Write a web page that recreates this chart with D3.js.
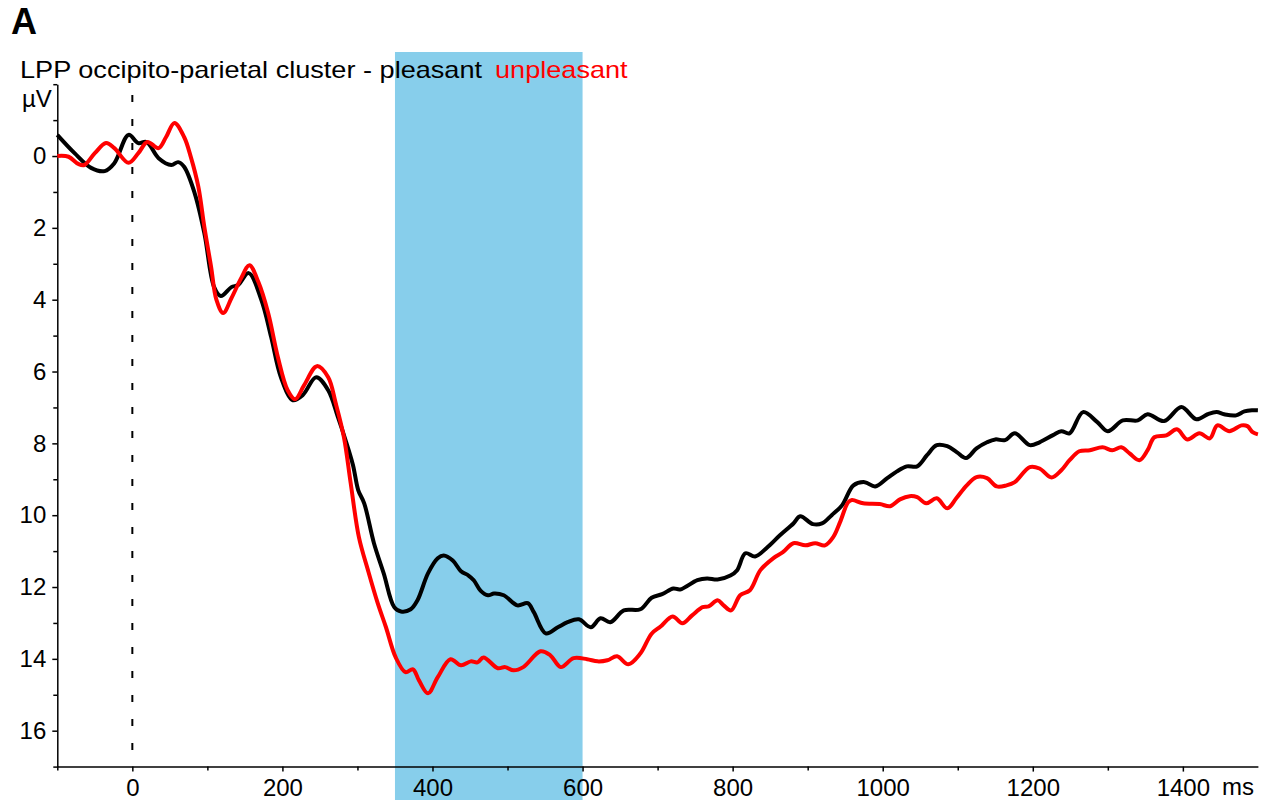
<!DOCTYPE html>
<html>
<head>
<meta charset="utf-8">
<script src="https://cdn.jsdelivr.net/npm/d3@7"></script>
<style>
  body { margin: 0; background: #fff; }
  svg { font-family: "Liberation Sans", Arial, sans-serif; }
  .axis path, .axis line { stroke: #000; stroke-width: 1.5; }
  .axis text { font-size: 24px; fill: #000; }
</style>
</head>
<body>
<svg id="canvas" width="1267" height="803"></svg>
<script>
// ************************************************************************************** //
// Data (ms, µV)

var pleasant_ms = [-100,-77,-55,-37,-24,-5,8,19,35,52,61,69,83,96,109,118,132,141,155,172,185,198,214,227,245,261,274,284,294,301,309,322,335,349,358,371,380,394,407,415,427,438,448,455,464,474,482,495,513,527,535,551,567,580,595,611,624,637,655,677,692,706,721,730,753,766,780,797,806,817,830,846,863,881,890,907,919,932,946,961,976,990,1006,1019,1032,1046,1059,1072,1086,1099,1111,1125,1139,1150,1163,1176,1196,1209,1227,1238,1249,1267,1286,1300,1320,1340,1353,1375,1398,1418,1433,1445,1455,1471,1482,1493,1500];
var pleasant_uv = [-0.59,-0.08,0.33,0.42,0.2,-0.59,-0.36,-0.39,0.06,0.25,0.17,0.3,1.03,2.15,3.65,3.9,3.65,3.59,3.26,4.01,5.04,6.16,6.8,6.66,6.16,6.52,7.27,7.9,8.6,9.3,9.67,10.78,11.62,12.56,12.68,12.62,12.37,11.62,11.2,11.12,11.26,11.56,11.68,11.81,12.1,12.23,12.18,12.23,12.51,12.45,12.7,13.29,13.12,12.98,12.9,13.12,12.87,12.98,12.65,12.62,12.3,12.2,12.04,12.07,11.81,11.76,11.79,11.68,11.53,11.06,11.15,10.9,10.56,10.23,10.03,10.25,10.23,10.0,9.72,9.17,9.08,9.2,8.97,8.78,8.64,8.64,8.33,8.05,8.08,8.25,8.41,8.14,7.97,7.89,7.91,7.72,8.05,7.97,7.77,7.66,7.72,7.13,7.41,7.66,7.36,7.36,7.19,7.38,6.99,7.33,7.19,7.13,7.19,7.22,7.11,7.08,7.08];

var unpleasant_ms = [-100,-85,-72,-64,-50,-35,-24,-5,8,20,35,45,56,69,78,88,96,105,112,121,132,145,156,168,181,194,207,217,229,246,261,271,282,291,302,314,327,338,351,364,374,382,394,407,424,438,451,460,468,487,497,508,521,544,557,571,588,606,620,633,646,661,677,692,704,720,733,746,760,768,780,788,798,810,823,837,854,867,881,897,910,923,934,943,954,959,974,996,1010,1023,1036,1046,1058,1072,1086,1098,1112,1125,1139,1152,1165,1176,1196,1209,1225,1238,1249,1262,1276,1293,1306,1318,1329,1342,1353,1362,1378,1392,1406,1422,1436,1446,1462,1478,1486,1493,1500];
var unpleasant_uv = [0.0,0.02,0.22,0.25,-0.08,-0.36,-0.22,0.19,-0.08,-0.39,-0.22,-0.53,-0.92,-0.53,0.03,0.86,1.98,3.09,4.0,4.37,3.96,3.4,3.04,3.51,4.37,5.6,6.52,6.77,6.38,5.85,6.16,6.88,7.83,9.11,10.62,11.53,12.45,13.12,13.96,14.37,14.29,14.6,14.96,14.51,14.01,14.18,14.07,14.1,13.96,14.26,14.23,14.32,14.23,13.79,13.9,14.23,13.98,14.01,14.07,14.04,13.93,14.15,13.85,13.3,13.1,12.82,13.01,12.79,12.56,12.54,12.37,12.51,12.65,12.23,12.09,11.53,11.2,11.03,10.78,10.84,10.78,10.84,10.61,10.2,9.64,9.58,9.67,9.69,9.75,9.56,9.47,9.5,9.67,9.53,9.81,9.53,9.17,8.94,8.97,9.2,9.17,9.08,8.66,8.7,8.95,8.75,8.47,8.22,8.19,8.11,8.19,8.11,8.28,8.47,8.19,7.83,7.78,7.61,7.89,7.72,7.86,7.5,7.66,7.5,7.52,7.69,7.75];

var window_ms = [350, 600];
var x_major = [0,200,400,600,800,1000,1200,1400];
var x_minor = [-100,100,300,500,700,900,1100,1300];
var y_major = [0,2,4,6,8,10,12,14,16];
var y_minor = [-2,-1,1,3,5,7,9,11,13,15,17];

// ************************************************************************************** //
// Scales

var svg = d3.select('#canvas');
var xScale = d3.scaleLinear().domain([-100, 1500]).range([57.3, 1257.9]);
var yScale = d3.scaleLinear().domain([-2, 17]).range([84.2, 766.6]);

var lineGen = d3.line()
  .x(d => xScale(d[0]))
  .y(d => yScale(d[1]))
  .curve(d3.curveCatmullRom.alpha(0.5));

// highlighted window
svg.append('rect')
  .attr('x', xScale(window_ms[0]))
  .attr('y', 52)
  .attr('width', xScale(window_ms[1]) - xScale(window_ms[0]))
  .attr('height', 748)
  .attr('fill', '#87ceeb');

// stimulus onset
svg.append('line')
  .attr('x1', xScale(0)).attr('x2', xScale(0))
  .attr('y1', 95).attr('y2', yScale(17))
  .attr('stroke', '#000').attr('stroke-width', 2)
  .attr('stroke-dasharray', '7,17');

// ************************************************************************************** //
// Axes

var fmt = d3.format('d');

svg.append('g').attr('class', 'axis').attr('transform', 'translate(' + xScale(-100) + ',0)')
  .call(d3.axisLeft(yScale).tickValues(y_major).tickFormat(fmt).tickSize(5).tickSizeOuter(0).tickPadding(6));
svg.append('g').attr('class', 'axis').attr('transform', 'translate(' + xScale(-100) + ',0)')
  .call(d3.axisLeft(yScale).tickValues(y_minor).tickSize(4).tickSizeOuter(0).tickFormat(''))
  .select('.domain').remove();

svg.append('g').attr('class', 'axis').attr('transform', 'translate(0,' + yScale(17) + ')')
  .call(d3.axisBottom(xScale).tickValues(x_major).tickFormat(fmt).tickSize(5).tickSizeOuter(0).tickPadding(7));
svg.append('g').attr('class', 'axis').attr('transform', 'translate(0,' + yScale(17) + ')')
  .call(d3.axisBottom(xScale).tickValues(x_minor).tickSize(4).tickSizeOuter(0).tickFormat(''))
  .select('.domain').remove();

svg.selectAll('.axis text').attr('font-family', '"Liberation Sans", Arial, sans-serif');

// ************************************************************************************** //
// Curves

var pleasant = pleasant_ms.map((d, i) => [d, pleasant_uv[i]]);
var unpleasant = unpleasant_ms.map((d, i) => [d, unpleasant_uv[i]]);

svg.append('path').attr('d', lineGen(pleasant))
  .attr('fill', 'none').attr('stroke', '#000').attr('stroke-width', 4).attr('stroke-linejoin', 'round');
svg.append('path').attr('d', lineGen(unpleasant))
  .attr('fill', 'none').attr('stroke', '#ff0000').attr('stroke-width', 4).attr('stroke-linejoin', 'round');

// ************************************************************************************** //
// Labels

svg.append('text').attr('x', 11).attr('y', 34)
  .attr('font-size', 36).attr('font-weight', 'bold').text('A');

// title is slightly wider in the original, stretch it a bit
var title = svg.append('text').attr('transform', 'translate(20,78) scale(1.13,1)').attr('font-size', 24);
title.append('tspan').attr('fill', '#000').text('LPP occipito-parietal cluster - pleasant');
title.append('tspan').attr('fill', '#ff0000').attr('x', (495 - 20) / 1.13).text('unpleasant');

svg.append('text').attr('x', 22).attr('y', 107).attr('font-size', 24).text('µV');
svg.append('text').attr('x', 1222).attr('y', 795).attr('font-size', 24).text('ms');
</script>
</body>
</html>
